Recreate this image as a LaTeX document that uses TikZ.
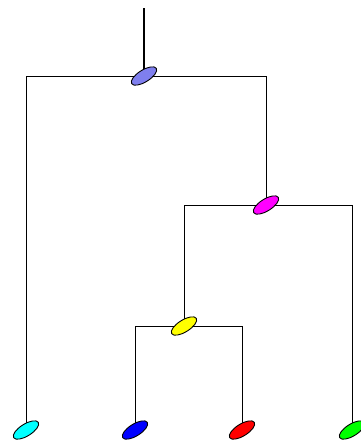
\documentclass[tikz,border=0pt]{standalone}
\usepackage{tikz}
\usetikzlibrary{shapes.geometric, backgrounds}
\definecolor{rootblue}{HTML}{7F7FEE}
\definecolor{leafcyan}{HTML}{00FFFF}
\definecolor{leafblue}{HTML}{0000FF}
\definecolor{leafred}{HTML}{FF0000}
\definecolor{leafgreen}{HTML}{00FF00}
\definecolor{cladepink}{HTML}{FF00FF}
\definecolor{cladeyellow}{HTML}{FFFF00}
\tikzset{
  clade/.style={ellipse, draw=black, line width=0.9pt, minimum width=29pt, minimum height=12pt, inner sep=0pt, rotate=32},
  branch/.style={line width=0.9pt, black},
  stem/.style={line width=1.6pt, black},
}
\begin{document}
\begin{tikzpicture}[x=1pt, y=-1pt]
\useasboundingbox (0,0) rectangle (361,440);
% inner nodes
\node[clade, fill=rootblue] (root) at (144,76) {};
\node[clade, fill=cladepink] (mag) at (266,205) {};
\node[clade, fill=cladeyellow] (yel) at (184,326) {};
% leaves
\node[clade, fill=leafcyan] (cya) at (26,430) {};
\node[clade, fill=leafblue] (blu) at (135,430) {};
\node[clade, fill=leafred] (rd) at (242,430) {};
\node[clade, fill=leafgreen] (grn) at (352,430) {};
\coordinate (top) at (144,8);

\begin{scope}[on background layer]
\draw[stem] (root.center) -- (top);
\draw[branch] (root.center) -| (cya.center);
\draw[branch] (root.center) -| (mag.center);
\draw[branch] (mag.center) -| (yel.center);
\draw[branch] (mag.center) -| (grn.center);
\draw[branch] (yel.center) -| (blu.center);
\draw[branch] (yel.center) -| (rd.center);
\end{scope}
\end{tikzpicture}
\end{document}
